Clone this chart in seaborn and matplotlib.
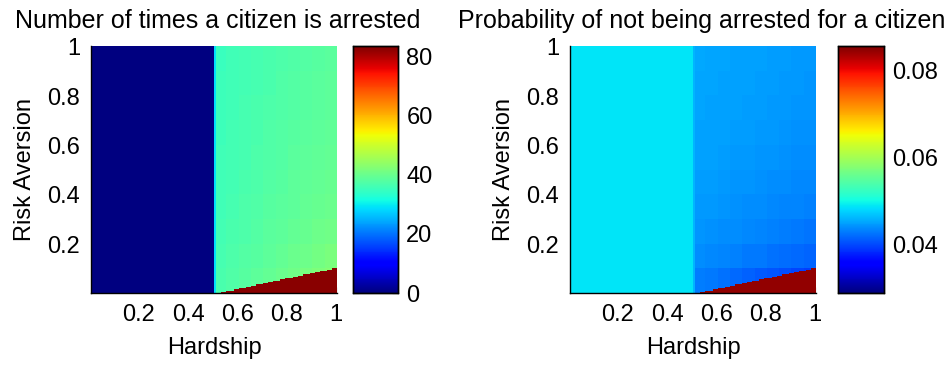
import numpy as np
import pandas as pd
import matplotlib
matplotlib.use("Agg")
import matplotlib.pyplot as plt
import seaborn as sns

sns.set_style("white")
plt.rcParams["font.family"] = ["Liberation Sans", "DejaVu Sans"]
for key in ("text.color", "axes.labelcolor", "xtick.color", "ytick.color"):
    plt.rcParams[key] = "black"

# Parameter grid of the simulation: hardship step 0.01, risk aversion step 0.005
hardship = np.round(np.arange(1, 101) / 100, 3)
risk_aversion = np.round(np.arange(200, 0, -1) / 200, 3)   # top row first

hardship_ticks = [0.2, 0.4, 0.6, 0.8, 1]
risk_ticks = [0.2, 0.4, 0.6, 0.8, 1]
arrest_cbar_ticks = [0, 20, 40, 60, 80]
free_cbar_ticks = [0.04, 0.06, 0.08]

# Calm region: hardship up to 0.50
calm_arrests = 0.0
calm_free_prob = 0.0488

# Column at hardship 0.51 (onset of activity)
edge_arrests = 29.0
edge_free_prob = 0.0462

# Heavily arrested wedge at low risk aversion
wedge_arrests = 83.0
wedge_free_prob = 0.0845
# number of 0.005 risk-aversion cells inside the wedge, hardship 0.51 ... 1.00
wedge_rows = [0, 0, 0, 1, 1, 2, 2, 2, 3, 3,
              4, 4, 4, 5, 5, 6, 6, 7, 7, 7,
              8, 8, 9, 9, 10, 10, 10, 11, 11, 12,
              12, 12, 13, 13, 14, 14, 15, 15, 15, 16,
              16, 17, 17, 18, 18, 18, 19, 19, 20, 20]

# Active region: hardship 0.51-1.00 in 0.05 blocks, risk aversion blocks 1.0 -> 0.1
active_arrests = [
    [35.3, 35.7, 36.1, 36.5, 36.8, 37.2, 37.5, 37.9, 38.2, 38.5],
    [35.4, 35.8, 36.2, 36.6, 36.9, 37.3, 37.6, 38.0, 38.3, 38.6],
    [35.5, 35.9, 36.3, 36.7, 37.1, 37.5, 37.8, 38.2, 38.5, 38.8],
    [35.6, 36.0, 36.4, 36.8, 37.3, 37.7, 38.0, 38.4, 38.7, 39.1],
    [35.7, 36.1, 36.6, 37.0, 37.5, 37.9, 38.3, 38.7, 39.0, 39.4],
    [35.8, 36.2, 36.8, 37.2, 37.7, 38.1, 38.6, 39.0, 39.4, 39.8],
    [35.9, 36.4, 37.0, 37.5, 38.0, 38.4, 38.9, 39.4, 39.8, 40.2],
    [36.1, 36.7, 37.2, 37.8, 38.3, 38.8, 39.3, 39.8, 40.3, 40.8],
    [36.4, 37.0, 37.6, 38.2, 38.8, 39.4, 40.0, 40.5, 41.1, 41.6],
    [36.7, 37.4, 38.1, 38.8, 39.5, 40.1, 40.8, 41.5, 42.1, 42.8],
]
active_free_prob = [
    [0.0454, 0.0453, 0.0452, 0.0451, 0.0450, 0.0449, 0.0448, 0.0447, 0.0446, 0.0445],
    [0.0453, 0.0452, 0.0451, 0.0450, 0.0449, 0.0448, 0.0447, 0.0446, 0.0445, 0.0444],
    [0.0452, 0.0451, 0.0450, 0.0449, 0.0448, 0.0447, 0.0446, 0.0445, 0.0444, 0.0443],
    [0.0451, 0.0450, 0.0449, 0.0448, 0.0447, 0.0446, 0.0445, 0.0443, 0.0442, 0.0441],
    [0.0450, 0.0449, 0.0447, 0.0446, 0.0445, 0.0444, 0.0443, 0.0441, 0.0440, 0.0439],
    [0.0448, 0.0447, 0.0446, 0.0444, 0.0443, 0.0442, 0.0440, 0.0439, 0.0437, 0.0436],
    [0.0446, 0.0445, 0.0443, 0.0442, 0.0440, 0.0439, 0.0437, 0.0435, 0.0434, 0.0432],
    [0.0443, 0.0442, 0.0440, 0.0438, 0.0436, 0.0434, 0.0432, 0.0430, 0.0428, 0.0426],
    [0.0439, 0.0437, 0.0434, 0.0432, 0.0429, 0.0427, 0.0424, 0.0422, 0.0419, 0.0417],
    [0.0430, 0.0427, 0.0423, 0.0419, 0.0415, 0.0411, 0.0407, 0.0403, 0.0399, 0.0395],
]


def build_surface(calm, edge, active, wedge):
    grid = np.empty((len(risk_aversion), len(hardship)))
    n_calm = int(np.sum(hardship <= 0.50))
    grid[:, :n_calm] = calm
    grid[:, n_calm:] = np.kron(np.array(active), np.ones((20, 5)))
    grid[:, n_calm] = edge
    for k, n in enumerate(wedge_rows):
        if n:
            grid[-n:, n_calm + k] = wedge
    return pd.DataFrame(grid, index=risk_aversion, columns=hardship)


arrests = build_surface(calm_arrests, edge_arrests, active_arrests, wedge_arrests)
free_prob = build_surface(calm_free_prob, edge_free_prob, active_free_prob, wedge_free_prob)

n_cols = len(hardship)
n_rows = len(risk_aversion)

W, H = 951, 365
fig = plt.figure(figsize=(W / 100, H / 100), dpi=100)

panels = [
    dict(data=arrests, vmin=0, vmax=83.7, ticks=arrest_cbar_ticks,
         fmt=lambda v: f"{v:g}", ax=(91, 46, 246, 247), cax=(353, 45),
         title="Number of times a citizen is arrested", title_x=218),
    dict(data=free_prob, vmin=0.029, vmax=0.0855, ticks=free_cbar_ticks,
         fmt=lambda v: f"{v:.2f}", ax=(570, 46, 246, 247), cax=(838, 46),
         title="Probability of not being arrested for a citizen", title_x=702),
]

FS = 17

for p in panels:
    x0, y0, w, h = p["ax"]
    ax = fig.add_axes([x0 / W, 1 - (y0 + h) / H, w / W, h / H])
    cx, cw = p["cax"]
    cax = fig.add_axes([cx / W, 1 - (y0 + h) / H, cw / W, h / H])

    sns.heatmap(p["data"], ax=ax, cmap="jet", vmin=p["vmin"], vmax=p["vmax"],
                cbar_ax=cax, xticklabels=False, yticklabels=False,
                rasterized=True)

    # axis ticks in data units of the parameter grid
    ax.set_xticks([n_cols * t - 0.5 for t in hardship_ticks])
    ax.set_xticklabels([f"{t:g}" for t in hardship_ticks])
    ax.set_yticks([n_rows * (1 - t) + 0.5 for t in risk_ticks])
    ax.set_yticklabels([f"{t:g}" for t in risk_ticks], rotation=0)
    ax.tick_params(direction="in", length=4, width=0.8, color="black",
                   labelsize=FS, pad=8, bottom=True, left=True)
    for side in ("left", "bottom"):
        ax.spines[side].set_visible(True)
        ax.spines[side].set_color("black")
        ax.spines[side].set_linewidth(1.0)
        ax.spines[side].set_zorder(5)
    for side in ("top", "right"):
        ax.spines[side].set_visible(False)
    ax.set_xlabel("Hardship", fontsize=FS, labelpad=8)
    ax.set_ylabel("Risk Aversion", fontsize=FS, labelpad=8)

    fig.text(p["title_x"] / W, 1 - 28 / H, p["title"], fontsize=FS + 1,
             ha="center", va="baseline")

    cax.set_yticks(p["ticks"])
    cax.set_yticklabels([p["fmt"](v) for v in p["ticks"]])
    cax.tick_params(axis="y", direction="in", length=4, width=0.8,
                    left=True, right=True, labelleft=False, labelright=True,
                    labelsize=FS, pad=6, color="black")
    for s in cax.spines.values():
        s.set_visible(True)
        s.set_color("black")
        s.set_linewidth(1.0)

fig.savefig("out.png", dpi=100)
